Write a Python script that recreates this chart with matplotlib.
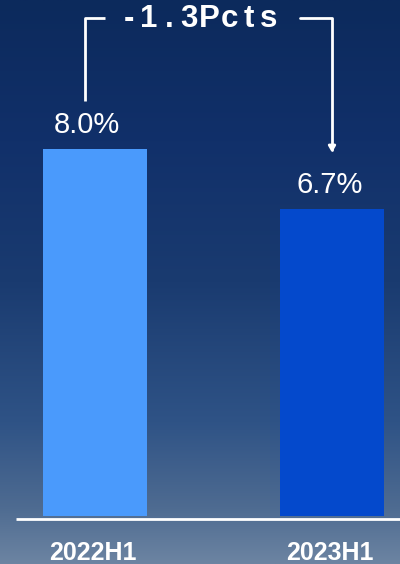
import numpy as np
import matplotlib
matplotlib.use('Agg')
import matplotlib.pyplot as plt
from matplotlib.colors import LinearSegmentedColormap

periods = ['2022H1', '2023H1']
rates = [8.0, 6.7]
bar_colors = ['#4a9afc', '#0449cc']
change_label = '-1.3Pcts'

W, H = 400, 564
fig = plt.figure(figsize=(W / 100, H / 100), dpi=100)

# background gradient (dark navy at top, greyish blue at bottom)
bg = fig.add_axes([0, 0, 1, 1])
bg.axis('off')
cmap = LinearSegmentedColormap.from_list('bg', [
    (0.0, '#0c2a5c'), (0.25, '#11306a'), (0.5, '#1a3b70'),
    (0.75, '#2f5386'), (0.9, '#4e6b91'), (1.0, '#6c84a2')])
grad = np.linspace(0, 1, 256).reshape(-1, 1)
bg.imshow(grad, aspect='auto', cmap=cmap, extent=[0, 1, 0, 1], origin='upper')
bg.set_xlim(0, 1)
bg.set_ylim(0, 1)

# main axes: full figure, pixel-based scaling
px = 8.0 / 367.0          # value units per pixel
base_px = 516             # baseline pixel (from top)
ax = fig.add_axes([0, 0, 1, 1])
ax.patch.set_alpha(0)
ax.axis('off')
step = 237.0
x0 = 95.0
ax.set_xlim(-x0 / step, (W - x0) / step)
ax.set_ylim(-(H - base_px) * px, base_px * px)

xs = np.arange(len(periods))
ax.bar(xs, rates, width=104 / step, color=bar_colors, zorder=2)

# baseline
ax.plot([(16 - x0) / step, (W - x0) / step], [-3 * px, -3 * px],
        color='white', lw=2, solid_capstyle='butt', clip_on=False, zorder=3)

for i, (x, v) in enumerate(zip(xs, rates)):
    ax.text(x - (0.035 if i == 0 else 0.01), v + 10 * px, f'{v:.1f}%',
            ha='center', va='bottom', color='white', fontsize=21,
            family='Liberation Sans')
    ax.text(x - 0.01, -37 * px, periods[i], ha='center', va='center',
            color='white', fontsize=18, fontweight='bold',
            family='Liberation Sans')

# bracket with arrow showing the change
y_top = (base_px - 18) * px
lx = (85 - x0) / step
rx = (332 - x0) / step
ax.plot([lx, lx, (105 - x0) / step], [rates[0] + 48 * px, y_top, y_top],
        color='white', lw=2, solid_capstyle='butt', zorder=3)
ax.annotate('', xy=(rx, rates[1] + 56 * px), xytext=((300 - x0) / step, y_top),
            arrowprops=dict(arrowstyle='-|>,head_length=0.35,head_width=0.2',
                            color='white', lw=2, connectionstyle='angle,angleA=0,angleB=90,rad=0',
                            shrinkA=0, shrinkB=0))

# spaced-out change label
cx = 199
spacing = 20
n = len(change_label)
for k, ch in enumerate(change_label):
    xp = cx + (k - (n - 1) / 2) * spacing
    ax.text((xp - x0) / step, (base_px - 19) * px, ch, ha='center', va='center',
            color='white', fontsize=22.5, fontweight='bold', family='Liberation Sans')

fig.savefig('out.png', dpi=100)
